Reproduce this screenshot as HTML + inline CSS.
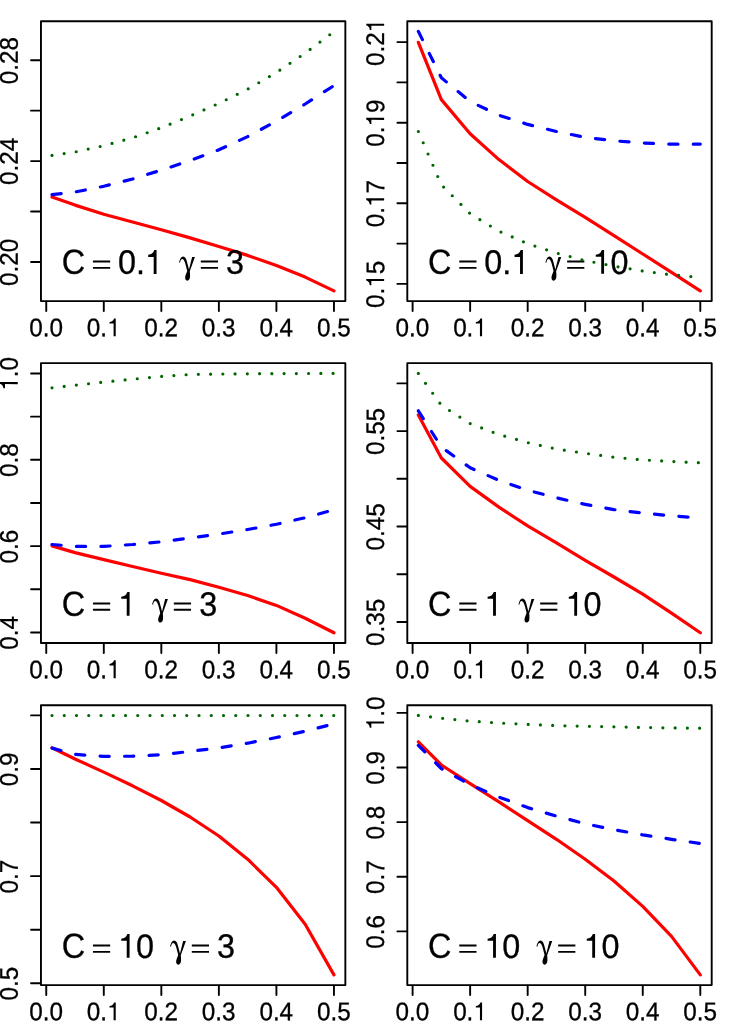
<!DOCTYPE html>
<html><head><meta charset="utf-8"><title>plot</title>
<style>html,body{margin:0;padding:0;background:#fff;}svg{display:block;will-change:transform;}text{font-family:"Liberation Sans",sans-serif;fill:#000;stroke:#000;stroke-width:0.3px;text-rendering:geometricPrecision;}</style></head><body>
<svg width="733" height="1026" viewBox="0 0 733 1026">
<rect x="0" y="0" width="733" height="1026" fill="#ffffff"/>
<g>
<polyline points="52.00,197.00 75.02,205.10 103.79,214.20 132.56,222.00 161.33,229.80 190.10,237.90 218.87,246.50 247.64,255.40 276.41,265.60 305.18,277.10 333.95,290.90" fill="none" stroke="#ff0000" stroke-width="3.2" stroke-linecap="round" stroke-linejoin="round"/>
<rect x="40.95" y="21.2" width="304.4" height="279.9" fill="none" stroke="#000" stroke-width="1.9" stroke-linejoin="round"/>
<path d="M46.25 301.70v9.30M103.79 301.70v9.30M161.33 301.70v9.30M218.87 301.70v9.30M276.41 301.70v9.30M333.95 301.70v9.30M40.35 60.20h-9.30M40.35 110.64h-9.30M40.35 161.08h-9.30M40.35 211.52h-9.30M40.35 261.96h-9.30" stroke="#000" stroke-width="1.9" fill="none" stroke-linecap="round"/>
<g transform="translate(46.10 336.30) rotate(0.1)"><text x="-16.86" y="0" font-size="24.26" transform="scale(1 1.0526)">0.0</text></g>
<g transform="translate(103.64 336.30) rotate(0.1)"><text x="-16.86" y="0" font-size="24.26" transform="scale(1 1.0526)">0.</text><path transform="translate(3.37 0) scale(0.02426 -0.02525)" d="M359 0L271 0L271 505L101 505L101 568C197 578 256 612 291 709L359 709Z" fill="#000"/></g>
<g transform="translate(161.18 336.30) rotate(0.1)"><text x="-16.86" y="0" font-size="24.26" transform="scale(1 1.0526)">0.2</text></g>
<g transform="translate(218.72 336.30) rotate(0.1)"><text x="-16.86" y="0" font-size="24.26" transform="scale(1 1.0526)">0.3</text></g>
<g transform="translate(276.26 336.30) rotate(0.1)"><text x="-16.86" y="0" font-size="24.26" transform="scale(1 1.0526)">0.4</text></g>
<g transform="translate(333.80 336.30) rotate(0.1)"><text x="-16.86" y="0" font-size="24.26" transform="scale(1 1.0526)">0.5</text></g>
<g transform="translate(17.77 60.60) rotate(-89.9)"><text x="-23.60" y="0" font-size="24.26" transform="scale(1 1.0526)">0.28</text></g>
<g transform="translate(17.77 161.48) rotate(-89.9)"><text x="-23.60" y="0" font-size="24.26" transform="scale(1 1.0526)">0.24</text></g>
<g transform="translate(17.77 262.36) rotate(-89.9)"><text x="-23.60" y="0" font-size="24.26" transform="scale(1 1.0526)">0.20</text></g>
<g transform="translate(61.65 273.85) rotate(0.1)"><text x="0.00" y="0" font-size="32.34" transform="scale(1 1.077)">C</text></g>
<path d="M92.95 261.55h17.2M92.95 267.85h17.2" stroke="#000" stroke-width="1.9" fill="none"/>
<g transform="translate(117.95 273.85) rotate(0.1)"><text x="0.00" y="0" font-size="32.34" transform="scale(1 1.051)">0.</text><path transform="translate(26.97 0) scale(0.03234 -0.03367)" d="M359 0L271 0L271 505L101 505L101 568C197 578 256 612 291 709L359 709Z" fill="#000"/></g>
<path transform="translate(179.20 273.85)" d="M0.0 -11.3 C0.3 -13.5 1.6 -17.3 3.9 -17.3 C6.0 -17.3 7.0 -14.8 7.7 -12.4 L9.8 -4.3 L12.9 -16.8 L15.7 -16.8 L10.6 -2.6 C10.8 -0.5 11.0 1.5 10.8 3.2 C10.6 5.2 9.6 6.8 8.2 6.8 C6.9 6.8 5.9 5.6 5.9 3.9 C5.9 2.0 7.2 -0.6 8.0 -2.8 L6.4 -9.2 C5.6 -12.3 4.6 -14.8 3.1 -14.8 C1.9 -14.8 1.2 -13.2 0.8 -11.1 Z" fill="#000"/>
<path d="M200.80 261.55h17.2M200.80 267.85h17.2" stroke="#000" stroke-width="1.9" fill="none"/>
<g transform="translate(226.10 273.85) rotate(0.1)"><text x="0.00" y="0" font-size="32.34" transform="scale(1 1.051)">3</text></g>
<polyline points="52.00,194.60 75.02,192.00 103.79,186.30 132.56,179.00 161.33,170.10 190.10,160.60 218.87,149.80 247.64,136.60 276.41,121.20 305.18,104.00 333.95,85.60" fill="none" stroke="#0000ff" stroke-width="3.2" stroke-linecap="round" stroke-linejoin="round" stroke-dasharray="9.19 15.31"/>
<polyline points="52.00,155.40 75.02,152.00 103.79,145.70 132.56,137.80 161.33,127.80 190.10,116.00 218.87,103.40 247.64,89.20 276.41,72.50 305.18,53.10 333.95,31.60" fill="none" stroke="#006400" stroke-width="3.2" stroke-linecap="round" stroke-linejoin="round" stroke-dasharray="0 12.25"/>
</g>
<g>
<polyline points="418.35,42.30 441.37,99.60 470.14,133.70 498.91,159.60 527.68,181.50 556.45,199.80 585.22,217.40 613.99,235.70 642.76,254.00 671.53,272.30 700.30,290.90" fill="none" stroke="#ff0000" stroke-width="3.2" stroke-linecap="round" stroke-linejoin="round"/>
<rect x="407.3" y="21.2" width="304.4" height="279.9" fill="none" stroke="#000" stroke-width="1.9" stroke-linejoin="round"/>
<path d="M412.60 301.70v9.30M470.14 301.70v9.30M527.68 301.70v9.30M585.22 301.70v9.30M642.76 301.70v9.30M700.30 301.70v9.30M406.70 42.10h-9.30M406.70 82.40h-9.30M406.70 122.70h-9.30M406.70 163.00h-9.30M406.70 203.30h-9.30M406.70 243.60h-9.30M406.70 283.90h-9.30" stroke="#000" stroke-width="1.9" fill="none" stroke-linecap="round"/>
<g transform="translate(412.45 336.30) rotate(0.1)"><text x="-16.86" y="0" font-size="24.26" transform="scale(1 1.0526)">0.0</text></g>
<g transform="translate(469.99 336.30) rotate(0.1)"><text x="-16.86" y="0" font-size="24.26" transform="scale(1 1.0526)">0.</text><path transform="translate(3.37 0) scale(0.02426 -0.02525)" d="M359 0L271 0L271 505L101 505L101 568C197 578 256 612 291 709L359 709Z" fill="#000"/></g>
<g transform="translate(527.53 336.30) rotate(0.1)"><text x="-16.86" y="0" font-size="24.26" transform="scale(1 1.0526)">0.2</text></g>
<g transform="translate(585.07 336.30) rotate(0.1)"><text x="-16.86" y="0" font-size="24.26" transform="scale(1 1.0526)">0.3</text></g>
<g transform="translate(642.61 336.30) rotate(0.1)"><text x="-16.86" y="0" font-size="24.26" transform="scale(1 1.0526)">0.4</text></g>
<g transform="translate(700.15 336.30) rotate(0.1)"><text x="-16.86" y="0" font-size="24.26" transform="scale(1 1.0526)">0.5</text></g>
<g transform="translate(384.12 42.50) rotate(-89.9)"><text x="-23.60" y="0" font-size="24.26" transform="scale(1 1.0526)">0.2</text><path transform="translate(10.12 0) scale(0.02426 -0.02525)" d="M359 0L271 0L271 505L101 505L101 568C197 578 256 612 291 709L359 709Z" fill="#000"/></g>
<g transform="translate(384.12 123.10) rotate(-89.9)"><text x="-23.60" y="0" font-size="24.26" transform="scale(1 1.0526)">0.</text><path transform="translate(-3.37 0) scale(0.02426 -0.02525)" d="M359 0L271 0L271 505L101 505L101 568C197 578 256 612 291 709L359 709Z" fill="#000"/><text x="10.12" y="0" font-size="24.26" transform="scale(1 1.0526)">9</text></g>
<g transform="translate(384.12 203.70) rotate(-89.9)"><text x="-23.60" y="0" font-size="24.26" transform="scale(1 1.0526)">0.</text><path transform="translate(-3.37 0) scale(0.02426 -0.02525)" d="M359 0L271 0L271 505L101 505L101 568C197 578 256 612 291 709L359 709Z" fill="#000"/><text x="10.12" y="0" font-size="24.26" transform="scale(1 1.0526)">7</text></g>
<g transform="translate(384.12 284.30) rotate(-89.9)"><text x="-23.60" y="0" font-size="24.26" transform="scale(1 1.0526)">0.</text><path transform="translate(-3.37 0) scale(0.02426 -0.02525)" d="M359 0L271 0L271 505L101 505L101 568C197 578 256 612 291 709L359 709Z" fill="#000"/><text x="10.12" y="0" font-size="24.26" transform="scale(1 1.0526)">5</text></g>
<g transform="translate(428.00 273.85) rotate(0.1)"><text x="0.00" y="0" font-size="32.34" transform="scale(1 1.077)">C</text></g>
<path d="M459.30 261.55h17.2M459.30 267.85h17.2" stroke="#000" stroke-width="1.9" fill="none"/>
<g transform="translate(484.30 273.85) rotate(0.1)"><text x="0.00" y="0" font-size="32.34" transform="scale(1 1.051)">0.</text><path transform="translate(26.97 0) scale(0.03234 -0.03367)" d="M359 0L271 0L271 505L101 505L101 568C197 578 256 612 291 709L359 709Z" fill="#000"/></g>
<path transform="translate(545.55 273.85)" d="M0.0 -11.3 C0.3 -13.5 1.6 -17.3 3.9 -17.3 C6.0 -17.3 7.0 -14.8 7.7 -12.4 L9.8 -4.3 L12.9 -16.8 L15.7 -16.8 L10.6 -2.6 C10.8 -0.5 11.0 1.5 10.8 3.2 C10.6 5.2 9.6 6.8 8.2 6.8 C6.9 6.8 5.9 5.6 5.9 3.9 C5.9 2.0 7.2 -0.6 8.0 -2.8 L6.4 -9.2 C5.6 -12.3 4.6 -14.8 3.1 -14.8 C1.9 -14.8 1.2 -13.2 0.8 -11.1 Z" fill="#000"/>
<path d="M567.15 261.55h17.2M567.15 267.85h17.2" stroke="#000" stroke-width="1.9" fill="none"/>
<g transform="translate(592.45 273.85) rotate(0.1)"><path transform="translate(0.00 0) scale(0.03234 -0.03367)" d="M359 0L271 0L271 505L101 505L101 568C197 578 256 612 291 709L359 709Z" fill="#000"/><text x="17.98" y="0" font-size="32.34" transform="scale(1 1.051)">0</text></g>
<polyline points="418.35,31.40 441.37,77.80 470.14,101.50 498.91,115.20 527.68,124.40 556.45,131.50 585.22,137.30 613.99,140.80 642.76,143.00 671.53,144.20 700.30,144.10" fill="none" stroke="#0000ff" stroke-width="3.2" stroke-linecap="round" stroke-linejoin="round" stroke-dasharray="9.19 15.31"/>
<polyline points="418.35,131.50 441.37,184.80 470.14,213.70 498.91,231.20 527.68,243.70 556.45,253.00 585.22,260.60 613.99,266.10 642.76,271.00 671.53,274.80 700.30,277.50" fill="none" stroke="#006400" stroke-width="3.2" stroke-linecap="round" stroke-linejoin="round" stroke-dasharray="0 12.25"/>
</g>
<g>
<polyline points="52.00,545.90 75.02,552.60 103.79,559.60 132.56,566.50 161.33,573.20 190.10,579.60 218.87,587.20 247.64,595.50 276.41,605.40 305.18,618.20 333.95,632.80" fill="none" stroke="#ff0000" stroke-width="3.2" stroke-linecap="round" stroke-linejoin="round"/>
<rect x="40.95" y="363.15" width="304.4" height="279.9" fill="none" stroke="#000" stroke-width="1.9" stroke-linejoin="round"/>
<path d="M46.25 643.65v9.30M103.79 643.65v9.30M161.33 643.65v9.30M218.87 643.65v9.30M276.41 643.65v9.30M333.95 643.65v9.30M40.35 373.46h-9.30M40.35 416.63h-9.30M40.35 459.80h-9.30M40.35 502.97h-9.30M40.35 546.14h-9.30M40.35 589.31h-9.30M40.35 632.48h-9.30" stroke="#000" stroke-width="1.9" fill="none" stroke-linecap="round"/>
<g transform="translate(46.10 678.25) rotate(0.1)"><text x="-16.86" y="0" font-size="24.26" transform="scale(1 1.0526)">0.0</text></g>
<g transform="translate(103.64 678.25) rotate(0.1)"><text x="-16.86" y="0" font-size="24.26" transform="scale(1 1.0526)">0.</text><path transform="translate(3.37 0) scale(0.02426 -0.02525)" d="M359 0L271 0L271 505L101 505L101 568C197 578 256 612 291 709L359 709Z" fill="#000"/></g>
<g transform="translate(161.18 678.25) rotate(0.1)"><text x="-16.86" y="0" font-size="24.26" transform="scale(1 1.0526)">0.2</text></g>
<g transform="translate(218.72 678.25) rotate(0.1)"><text x="-16.86" y="0" font-size="24.26" transform="scale(1 1.0526)">0.3</text></g>
<g transform="translate(276.26 678.25) rotate(0.1)"><text x="-16.86" y="0" font-size="24.26" transform="scale(1 1.0526)">0.4</text></g>
<g transform="translate(333.80 678.25) rotate(0.1)"><text x="-16.86" y="0" font-size="24.26" transform="scale(1 1.0526)">0.5</text></g>
<g transform="translate(17.77 373.86) rotate(-89.9)"><path transform="translate(-16.86 0) scale(0.02426 -0.02525)" d="M359 0L271 0L271 505L101 505L101 568C197 578 256 612 291 709L359 709Z" fill="#000"/><text x="-3.37" y="0" font-size="24.26" transform="scale(1 1.0526)">.0</text></g>
<g transform="translate(17.77 460.20) rotate(-89.9)"><text x="-16.86" y="0" font-size="24.26" transform="scale(1 1.0526)">0.8</text></g>
<g transform="translate(17.77 546.54) rotate(-89.9)"><text x="-16.86" y="0" font-size="24.26" transform="scale(1 1.0526)">0.6</text></g>
<g transform="translate(17.77 632.88) rotate(-89.9)"><text x="-16.86" y="0" font-size="24.26" transform="scale(1 1.0526)">0.4</text></g>
<g transform="translate(61.65 615.80) rotate(0.1)"><text x="0.00" y="0" font-size="32.34" transform="scale(1 1.077)">C</text></g>
<path d="M92.95 603.50h17.2M92.95 609.80h17.2" stroke="#000" stroke-width="1.9" fill="none"/>
<g transform="translate(117.95 615.80) rotate(0.1)"><path transform="translate(0.00 0) scale(0.03234 -0.03367)" d="M359 0L271 0L271 505L101 505L101 568C197 578 256 612 291 709L359 709Z" fill="#000"/></g>
<path transform="translate(152.23 615.80)" d="M0.0 -11.3 C0.3 -13.5 1.6 -17.3 3.9 -17.3 C6.0 -17.3 7.0 -14.8 7.7 -12.4 L9.8 -4.3 L12.9 -16.8 L15.7 -16.8 L10.6 -2.6 C10.8 -0.5 11.0 1.5 10.8 3.2 C10.6 5.2 9.6 6.8 8.2 6.8 C6.9 6.8 5.9 5.6 5.9 3.9 C5.9 2.0 7.2 -0.6 8.0 -2.8 L6.4 -9.2 C5.6 -12.3 4.6 -14.8 3.1 -14.8 C1.9 -14.8 1.2 -13.2 0.8 -11.1 Z" fill="#000"/>
<path d="M173.83 603.50h17.2M173.83 609.80h17.2" stroke="#000" stroke-width="1.9" fill="none"/>
<g transform="translate(199.13 615.80) rotate(0.1)"><text x="0.00" y="0" font-size="32.34" transform="scale(1 1.051)">3</text></g>
<polyline points="52.00,544.50 75.02,546.40 103.79,546.40 132.56,544.50 161.33,541.80 190.10,537.90 218.87,534.10 247.64,529.50 276.41,524.30 305.18,517.70 333.95,509.80" fill="none" stroke="#0000ff" stroke-width="3.2" stroke-linecap="round" stroke-linejoin="round" stroke-dasharray="9.19 15.31"/>
<polyline points="52.00,387.80 75.02,385.20 103.79,382.10 132.56,379.20 161.33,376.40 190.10,374.50 218.87,374.05 247.64,373.80 276.41,373.60 305.18,373.50 333.95,373.40" fill="none" stroke="#006400" stroke-width="3.2" stroke-linecap="round" stroke-linejoin="round" stroke-dasharray="0 12.25"/>
</g>
<g>
<polyline points="418.35,414.90 441.37,458.00 470.14,486.40 498.91,507.10 527.68,525.90 556.45,542.80 585.22,560.30 613.99,577.00 642.76,594.20 671.53,613.20 700.30,632.80" fill="none" stroke="#ff0000" stroke-width="3.2" stroke-linecap="round" stroke-linejoin="round"/>
<rect x="407.3" y="363.15" width="304.4" height="279.9" fill="none" stroke="#000" stroke-width="1.9" stroke-linejoin="round"/>
<path d="M412.60 643.65v9.30M470.14 643.65v9.30M527.68 643.65v9.30M585.22 643.65v9.30M642.76 643.65v9.30M700.30 643.65v9.30M406.70 383.38h-9.30M406.70 431.10h-9.30M406.70 478.82h-9.30M406.70 526.54h-9.30M406.70 574.26h-9.30M406.70 621.98h-9.30" stroke="#000" stroke-width="1.9" fill="none" stroke-linecap="round"/>
<g transform="translate(412.45 678.25) rotate(0.1)"><text x="-16.86" y="0" font-size="24.26" transform="scale(1 1.0526)">0.0</text></g>
<g transform="translate(469.99 678.25) rotate(0.1)"><text x="-16.86" y="0" font-size="24.26" transform="scale(1 1.0526)">0.</text><path transform="translate(3.37 0) scale(0.02426 -0.02525)" d="M359 0L271 0L271 505L101 505L101 568C197 578 256 612 291 709L359 709Z" fill="#000"/></g>
<g transform="translate(527.53 678.25) rotate(0.1)"><text x="-16.86" y="0" font-size="24.26" transform="scale(1 1.0526)">0.2</text></g>
<g transform="translate(585.07 678.25) rotate(0.1)"><text x="-16.86" y="0" font-size="24.26" transform="scale(1 1.0526)">0.3</text></g>
<g transform="translate(642.61 678.25) rotate(0.1)"><text x="-16.86" y="0" font-size="24.26" transform="scale(1 1.0526)">0.4</text></g>
<g transform="translate(700.15 678.25) rotate(0.1)"><text x="-16.86" y="0" font-size="24.26" transform="scale(1 1.0526)">0.5</text></g>
<g transform="translate(384.12 431.50) rotate(-89.9)"><text x="-23.60" y="0" font-size="24.26" transform="scale(1 1.0526)">0.55</text></g>
<g transform="translate(384.12 526.94) rotate(-89.9)"><text x="-23.60" y="0" font-size="24.26" transform="scale(1 1.0526)">0.45</text></g>
<g transform="translate(384.12 622.38) rotate(-89.9)"><text x="-23.60" y="0" font-size="24.26" transform="scale(1 1.0526)">0.35</text></g>
<g transform="translate(428.00 615.80) rotate(0.1)"><text x="0.00" y="0" font-size="32.34" transform="scale(1 1.077)">C</text></g>
<path d="M459.30 603.50h17.2M459.30 609.80h17.2" stroke="#000" stroke-width="1.9" fill="none"/>
<g transform="translate(484.30 615.80) rotate(0.1)"><path transform="translate(0.00 0) scale(0.03234 -0.03367)" d="M359 0L271 0L271 505L101 505L101 568C197 578 256 612 291 709L359 709Z" fill="#000"/></g>
<path transform="translate(518.58 615.80)" d="M0.0 -11.3 C0.3 -13.5 1.6 -17.3 3.9 -17.3 C6.0 -17.3 7.0 -14.8 7.7 -12.4 L9.8 -4.3 L12.9 -16.8 L15.7 -16.8 L10.6 -2.6 C10.8 -0.5 11.0 1.5 10.8 3.2 C10.6 5.2 9.6 6.8 8.2 6.8 C6.9 6.8 5.9 5.6 5.9 3.9 C5.9 2.0 7.2 -0.6 8.0 -2.8 L6.4 -9.2 C5.6 -12.3 4.6 -14.8 3.1 -14.8 C1.9 -14.8 1.2 -13.2 0.8 -11.1 Z" fill="#000"/>
<path d="M540.18 603.50h17.2M540.18 609.80h17.2" stroke="#000" stroke-width="1.9" fill="none"/>
<g transform="translate(565.48 615.80) rotate(0.1)"><path transform="translate(0.00 0) scale(0.03234 -0.03367)" d="M359 0L271 0L271 505L101 505L101 568C197 578 256 612 291 709L359 709Z" fill="#000"/><text x="17.98" y="0" font-size="32.34" transform="scale(1 1.051)">0</text></g>
<polyline points="418.35,410.80 441.37,447.10 470.14,467.80 498.91,480.40 527.68,490.20 556.45,497.80 585.22,504.40 613.99,509.60 642.76,513.10 671.53,515.80 700.30,518.00" fill="none" stroke="#0000ff" stroke-width="3.2" stroke-linecap="round" stroke-linejoin="round" stroke-dasharray="9.19 15.31"/>
<polyline points="418.35,373.40 441.37,405.30 470.14,423.60 498.91,434.50 527.68,442.60 556.45,449.00 585.22,453.30 613.99,457.20 642.76,459.90 671.53,461.50 700.30,462.75" fill="none" stroke="#006400" stroke-width="3.2" stroke-linecap="round" stroke-linejoin="round" stroke-dasharray="0 12.25"/>
</g>
<g>
<polyline points="52.00,747.80 75.02,759.00 103.79,772.10 132.56,785.80 161.33,800.50 190.10,817.00 218.87,836.00 247.64,859.20 276.41,887.30 305.18,924.20 333.95,974.90" fill="none" stroke="#ff0000" stroke-width="3.2" stroke-linecap="round" stroke-linejoin="round"/>
<rect x="40.95" y="705.2" width="304.4" height="279.9" fill="none" stroke="#000" stroke-width="1.9" stroke-linejoin="round"/>
<path d="M46.25 985.70v9.30M103.79 985.70v9.30M161.33 985.70v9.30M218.87 985.70v9.30M276.41 985.70v9.30M333.95 985.70v9.30M40.35 715.40h-9.30M40.35 768.98h-9.30M40.35 822.56h-9.30M40.35 876.14h-9.30M40.35 929.72h-9.30M40.35 983.30h-9.30" stroke="#000" stroke-width="1.9" fill="none" stroke-linecap="round"/>
<g transform="translate(46.10 1020.30) rotate(0.1)"><text x="-16.86" y="0" font-size="24.26" transform="scale(1 1.0526)">0.0</text></g>
<g transform="translate(103.64 1020.30) rotate(0.1)"><text x="-16.86" y="0" font-size="24.26" transform="scale(1 1.0526)">0.</text><path transform="translate(3.37 0) scale(0.02426 -0.02525)" d="M359 0L271 0L271 505L101 505L101 568C197 578 256 612 291 709L359 709Z" fill="#000"/></g>
<g transform="translate(161.18 1020.30) rotate(0.1)"><text x="-16.86" y="0" font-size="24.26" transform="scale(1 1.0526)">0.2</text></g>
<g transform="translate(218.72 1020.30) rotate(0.1)"><text x="-16.86" y="0" font-size="24.26" transform="scale(1 1.0526)">0.3</text></g>
<g transform="translate(276.26 1020.30) rotate(0.1)"><text x="-16.86" y="0" font-size="24.26" transform="scale(1 1.0526)">0.4</text></g>
<g transform="translate(333.80 1020.30) rotate(0.1)"><text x="-16.86" y="0" font-size="24.26" transform="scale(1 1.0526)">0.5</text></g>
<g transform="translate(17.77 769.38) rotate(-89.9)"><text x="-16.86" y="0" font-size="24.26" transform="scale(1 1.0526)">0.9</text></g>
<g transform="translate(17.77 876.54) rotate(-89.9)"><text x="-16.86" y="0" font-size="24.26" transform="scale(1 1.0526)">0.7</text></g>
<g transform="translate(17.77 983.70) rotate(-89.9)"><text x="-16.86" y="0" font-size="24.26" transform="scale(1 1.0526)">0.5</text></g>
<g transform="translate(61.65 957.85) rotate(0.1)"><text x="0.00" y="0" font-size="32.34" transform="scale(1 1.077)">C</text></g>
<path d="M92.95 945.55h17.2M92.95 951.85h17.2" stroke="#000" stroke-width="1.9" fill="none"/>
<g transform="translate(117.95 957.85) rotate(0.1)"><path transform="translate(0.00 0) scale(0.03234 -0.03367)" d="M359 0L271 0L271 505L101 505L101 568C197 578 256 612 291 709L359 709Z" fill="#000"/><text x="17.98" y="0" font-size="32.34" transform="scale(1 1.051)">0</text></g>
<path transform="translate(170.21 957.85)" d="M0.0 -11.3 C0.3 -13.5 1.6 -17.3 3.9 -17.3 C6.0 -17.3 7.0 -14.8 7.7 -12.4 L9.8 -4.3 L12.9 -16.8 L15.7 -16.8 L10.6 -2.6 C10.8 -0.5 11.0 1.5 10.8 3.2 C10.6 5.2 9.6 6.8 8.2 6.8 C6.9 6.8 5.9 5.6 5.9 3.9 C5.9 2.0 7.2 -0.6 8.0 -2.8 L6.4 -9.2 C5.6 -12.3 4.6 -14.8 3.1 -14.8 C1.9 -14.8 1.2 -13.2 0.8 -11.1 Z" fill="#000"/>
<path d="M191.81 945.55h17.2M191.81 951.85h17.2" stroke="#000" stroke-width="1.9" fill="none"/>
<g transform="translate(217.11 957.85) rotate(0.1)"><text x="0.00" y="0" font-size="32.34" transform="scale(1 1.051)">3</text></g>
<polyline points="52.00,748.10 75.02,754.40 103.79,756.40 132.56,756.20 161.33,754.70 190.10,751.40 218.87,747.85 247.64,743.20 276.41,737.50 305.18,731.20 333.95,723.80" fill="none" stroke="#0000ff" stroke-width="3.2" stroke-linecap="round" stroke-linejoin="round" stroke-dasharray="9.19 15.31"/>
<polyline points="52.00,715.50 75.02,715.50 103.79,715.50 132.56,715.50 161.33,715.50 190.10,715.50 218.87,715.50 247.64,715.50 276.41,715.50 305.18,715.50 333.95,715.50" fill="none" stroke="#006400" stroke-width="3.2" stroke-linecap="round" stroke-linejoin="round" stroke-dasharray="0 12.25"/>
</g>
<g>
<polyline points="418.35,741.80 441.37,765.00 470.14,783.60 498.91,801.90 527.68,820.70 556.45,839.30 585.22,859.20 613.99,881.00 642.76,906.40 671.53,936.40 700.30,974.90" fill="none" stroke="#ff0000" stroke-width="3.2" stroke-linecap="round" stroke-linejoin="round"/>
<rect x="407.3" y="705.2" width="304.4" height="279.9" fill="none" stroke="#000" stroke-width="1.9" stroke-linejoin="round"/>
<path d="M412.60 985.70v9.30M470.14 985.70v9.30M527.68 985.70v9.30M585.22 985.70v9.30M642.76 985.70v9.30M700.30 985.70v9.30M406.70 712.90h-9.30M406.70 767.53h-9.30M406.70 822.16h-9.30M406.70 876.79h-9.30M406.70 931.42h-9.30" stroke="#000" stroke-width="1.9" fill="none" stroke-linecap="round"/>
<g transform="translate(412.45 1020.30) rotate(0.1)"><text x="-16.86" y="0" font-size="24.26" transform="scale(1 1.0526)">0.0</text></g>
<g transform="translate(469.99 1020.30) rotate(0.1)"><text x="-16.86" y="0" font-size="24.26" transform="scale(1 1.0526)">0.</text><path transform="translate(3.37 0) scale(0.02426 -0.02525)" d="M359 0L271 0L271 505L101 505L101 568C197 578 256 612 291 709L359 709Z" fill="#000"/></g>
<g transform="translate(527.53 1020.30) rotate(0.1)"><text x="-16.86" y="0" font-size="24.26" transform="scale(1 1.0526)">0.2</text></g>
<g transform="translate(585.07 1020.30) rotate(0.1)"><text x="-16.86" y="0" font-size="24.26" transform="scale(1 1.0526)">0.3</text></g>
<g transform="translate(642.61 1020.30) rotate(0.1)"><text x="-16.86" y="0" font-size="24.26" transform="scale(1 1.0526)">0.4</text></g>
<g transform="translate(700.15 1020.30) rotate(0.1)"><text x="-16.86" y="0" font-size="24.26" transform="scale(1 1.0526)">0.5</text></g>
<g transform="translate(384.12 713.30) rotate(-89.9)"><path transform="translate(-16.86 0) scale(0.02426 -0.02525)" d="M359 0L271 0L271 505L101 505L101 568C197 578 256 612 291 709L359 709Z" fill="#000"/><text x="-3.37" y="0" font-size="24.26" transform="scale(1 1.0526)">.0</text></g>
<g transform="translate(384.12 767.93) rotate(-89.9)"><text x="-16.86" y="0" font-size="24.26" transform="scale(1 1.0526)">0.9</text></g>
<g transform="translate(384.12 822.56) rotate(-89.9)"><text x="-16.86" y="0" font-size="24.26" transform="scale(1 1.0526)">0.8</text></g>
<g transform="translate(384.12 877.19) rotate(-89.9)"><text x="-16.86" y="0" font-size="24.26" transform="scale(1 1.0526)">0.7</text></g>
<g transform="translate(384.12 931.82) rotate(-89.9)"><text x="-16.86" y="0" font-size="24.26" transform="scale(1 1.0526)">0.6</text></g>
<g transform="translate(428.00 957.85) rotate(0.1)"><text x="0.00" y="0" font-size="32.34" transform="scale(1 1.077)">C</text></g>
<path d="M459.30 945.55h17.2M459.30 951.85h17.2" stroke="#000" stroke-width="1.9" fill="none"/>
<g transform="translate(484.30 957.85) rotate(0.1)"><path transform="translate(0.00 0) scale(0.03234 -0.03367)" d="M359 0L271 0L271 505L101 505L101 568C197 578 256 612 291 709L359 709Z" fill="#000"/><text x="17.98" y="0" font-size="32.34" transform="scale(1 1.051)">0</text></g>
<path transform="translate(536.56 957.85)" d="M0.0 -11.3 C0.3 -13.5 1.6 -17.3 3.9 -17.3 C6.0 -17.3 7.0 -14.8 7.7 -12.4 L9.8 -4.3 L12.9 -16.8 L15.7 -16.8 L10.6 -2.6 C10.8 -0.5 11.0 1.5 10.8 3.2 C10.6 5.2 9.6 6.8 8.2 6.8 C6.9 6.8 5.9 5.6 5.9 3.9 C5.9 2.0 7.2 -0.6 8.0 -2.8 L6.4 -9.2 C5.6 -12.3 4.6 -14.8 3.1 -14.8 C1.9 -14.8 1.2 -13.2 0.8 -11.1 Z" fill="#000"/>
<path d="M558.16 945.55h17.2M558.16 951.85h17.2" stroke="#000" stroke-width="1.9" fill="none"/>
<g transform="translate(583.46 957.85) rotate(0.1)"><path transform="translate(0.00 0) scale(0.03234 -0.03367)" d="M359 0L271 0L271 505L101 505L101 568C197 578 256 612 291 709L359 709Z" fill="#000"/><text x="17.98" y="0" font-size="32.34" transform="scale(1 1.051)">0</text></g>
<polyline points="418.35,745.40 441.37,768.60 470.14,784.70 498.91,797.10 527.68,807.60 556.45,816.10 585.22,823.70 613.99,829.70 642.76,834.90 671.53,839.30 700.30,843.50" fill="none" stroke="#0000ff" stroke-width="3.2" stroke-linecap="round" stroke-linejoin="round" stroke-dasharray="9.19 15.31"/>
<polyline points="418.35,715.40 441.37,718.20 470.14,721.10 498.91,723.00 527.68,724.40 556.45,725.60 585.22,726.30 613.99,726.80 642.76,727.50 671.53,727.90 700.30,728.20" fill="none" stroke="#006400" stroke-width="3.2" stroke-linecap="round" stroke-linejoin="round" stroke-dasharray="0 12.25"/>
</g>
</svg></body></html>
